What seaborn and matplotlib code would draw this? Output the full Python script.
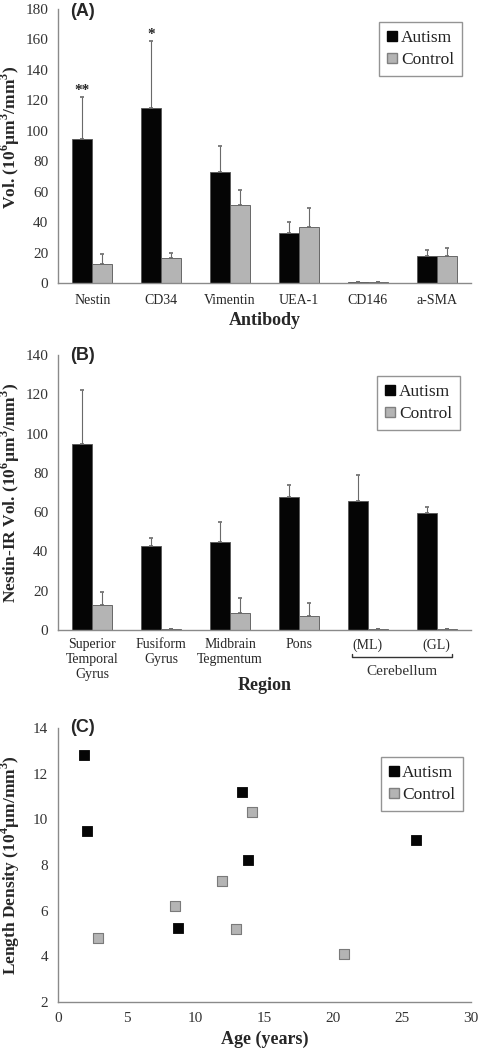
import numpy as np
import pandas as pd
import seaborn as sns
import matplotlib.pyplot as plt
from matplotlib.lines import Line2D
from matplotlib.ticker import MultipleLocator, FixedLocator
import matplotlib.transforms as mtransforms

# ---------------- data ----------------
groups = ['Autism', 'Control']

antibodies = ['Nestin', 'CD34', 'Vimentin', 'UEA-1', 'CD146', 'a-SMA']
a_autism = [94.5, 115, 73, 33, 0.5, 17.5]
a_autism_err = [27.5, 44, 17, 7, 0, 4]
a_control = [12.5, 16.5, 51.5, 37, 0.8, 18]
a_control_err = [6.5, 3, 9.5, 12.5, 0, 5]
a_stars = ['**', '*', '', '', '', '']

regions = ['Superior\nTemporal\nGyrus', 'Fusiform\nGyrus', 'Midbrain\nTegmentum',
           'Pons', '(ML)', '(GL)']
b_autism = [94.5, 43, 45, 67.5, 65.5, 59.5]
b_autism_err = [27.5, 4, 10, 6.5, 13.5, 3]
b_control = [12.5, 0.3, 8.5, 7, 0.3, 0.5]
b_control_err = [7, 0, 8, 6.5, 0, 0]

c_autism_age = [1.9, 2.1, 8.7, 13.4, 13.8, 26.0]
c_autism_ld = [12.8, 9.5, 5.25, 11.2, 8.2, 9.1]
c_control_age = [2.9, 8.5, 11.9, 12.9, 14.1, 20.8]
c_control_ld = [4.8, 6.2, 7.3, 5.2, 10.3, 4.1]

# ---------------- style ----------------
sns.set_style('white')
SERIF = ['Liberation Serif', 'DejaVu Serif']
plt.rcParams['font.family'] = SERIF
plt.rcParams['mathtext.fontset'] = 'custom'
plt.rcParams['mathtext.rm'] = 'Liberation Serif'
plt.rcParams['mathtext.bf'] = 'Liberation Serif:bold'

BLACK = '#050505'
GRAY = '#b4b4b4'
AXC = '#8a8a8a'
palette = {'Autism': BLACK, 'Control': GRAY}


def legend_box(ax, anchor):
    handles = [Line2D([], [], ls='none', marker='s', ms=7, mfc=BLACK, mec=BLACK),
               Line2D([], [], ls='none', marker='s', ms=7, mfc=GRAY, mec='#808080')]
    leg = ax.legend(handles, groups, loc='upper right', bbox_to_anchor=anchor,
                    prop={'family': 'Liberation Serif', 'size': 12.5},
                    frameon=True, fancybox=False, handlelength=0.6,
                    handletextpad=0.2, borderpad=0.45, labelspacing=0.35,
                    borderaxespad=0)
    leg.get_frame().set_edgecolor('#7a7a7a')
    leg.get_frame().set_linewidth(1.0)
    for t in leg.get_texts():
        t.set_color('#222222')


def style_axes(ax):
    sns.despine(ax=ax)
    for s in ['left', 'bottom']:
        ax.spines[s].set_color(AXC)
        ax.spines[s].set_linewidth(1.0)
    ax.tick_params(colors='#333333', labelsize=11)
    ax.tick_params(axis='both', which='both', color=AXC)


def bar_panel(ax, cats, aut, aut_err, con, con_err, ymax, ystep, ylabel, xlabel):
    df = pd.DataFrame({
        'cat': cats + cats,
        'val': aut + con,
        'group': ['Autism'] * len(cats) + ['Control'] * len(cats),
    })
    sns.barplot(data=df, x='cat', y='val', hue='group', order=cats, hue_order=groups,
                palette=palette, width=0.58, errorbar=None, legend=False,
                edgecolor='#555555', linewidth=0.6, ax=ax)
    for cont, err in zip(ax.containers, [aut_err, con_err]):
        xs = [b.get_x() + b.get_width() / 2 for b in cont]
        ys = [b.get_height() for b in cont]
        ax.errorbar(xs, ys, yerr=[np.zeros(len(err)), err], fmt='none',
                    ecolor='#6a6a6a', elinewidth=0.8, capsize=1.5, capthick=1.2)
    style_axes(ax)
    ax.set_xlim(-0.5, len(cats) - 0.5)
    ax.set_ylim(0, ymax)
    ax.set_yticks(np.arange(0, ymax + 1, ystep))
    ax.xaxis.set_major_locator(FixedLocator(np.arange(-0.5, len(cats), 1.0)))
    ax.xaxis.set_minor_locator(FixedLocator(np.arange(len(cats))))
    ax.set_xticklabels([], minor=False)
    ax.set_xticklabels(cats, minor=True, linespacing=1.2, family=SERIF)
    ax.tick_params(axis='x', which='major', direction='inout', length=7, width=0.9)
    ax.tick_params(axis='x', which='minor', length=0, pad=8)
    ax.tick_params(axis='y', which='major', direction='out', length=4, width=0.9, pad=3)
    ax.set_xlabel(xlabel, fontsize=13, fontweight='bold')
    ax.set_ylabel(ylabel, fontsize=12.5, fontweight='bold')


fig = plt.figure(figsize=(4.79, 10.5), dpi=100)

# ---------------- (A) ----------------
axA = fig.add_axes([58 / 479, 1 - 283 / 1050, 413 / 479, 274 / 1050])
bar_panel(axA, antibodies, a_autism, a_autism_err, a_control, a_control_err,
          180, 20, r'Vol. (10$^{\mathbf{6}}$µm$^{\mathbf{3}}$/mm$^{\mathbf{3}}$)', 'Antibody')
for b, err, st in zip(axA.containers[0], a_autism_err, a_stars):
    if st:
        axA.text(b.get_x() + b.get_width() / 2, b.get_height() + err, st,
                 ha='center', va='bottom', fontsize=11, fontweight='bold')
axA.xaxis.set_label_coords(0.5, -0.105)
axA.yaxis.set_label_coords(-0.088, 0.53)
legend_box(axA, (0.978, 0.953))

# ---------------- (B) ----------------
axB = fig.add_axes([58 / 479, 1 - 630 / 1050, 413 / 479, 275 / 1050])
bar_panel(axB, regions, b_autism, b_autism_err, b_control, b_control_err,
          140, 20, r'Nestin-IR Vol. (10$^{\mathbf{6}}$µm$^{\mathbf{3}}$/mm$^{\mathbf{3}}$)', 'Region')
axB.tick_params(axis='x', which='minor', pad=6)
axB.xaxis.set_label_coords(0.5, -0.17)
axB.yaxis.set_label_coords(-0.088, 0.5)
legend_box(axB, (0.973, 0.924))
trB = mtransforms.blended_transform_factory(axB.transData, axB.transAxes)
axB.plot([3.77, 3.77, 5.23, 5.23], [-0.087, -0.098, -0.098, -0.087], color='#333333',
         lw=1.0, transform=trB, clip_on=False)
axB.text(4.5, -0.15, 'Cerebellum', transform=trB, ha='center', va='center', fontsize=11,
         family=SERIF, color='#333333')

# ---------------- (C) ----------------
axC = fig.add_axes([58 / 479, 1 - 1002 / 1050, 413 / 479, 274 / 1050])
dfc = pd.DataFrame({
    'age': c_autism_age + c_control_age,
    'ld': c_autism_ld + c_control_ld,
    'group': ['Autism'] * len(c_autism_age) + ['Control'] * len(c_control_age),
})
sns.scatterplot(data=dfc[dfc.group == 'Autism'], x='age', y='ld', marker='s', s=42,
                color=BLACK, edgecolor=BLACK, linewidth=0.6, ax=axC, legend=False)
sns.scatterplot(data=dfc[dfc.group == 'Control'], x='age', y='ld', marker='s', s=42,
                color=GRAY, edgecolor='#7a7a7a', linewidth=0.8, ax=axC, legend=False)
style_axes(axC)
axC.set_xlim(0, 30)
axC.set_ylim(2, 14)
axC.xaxis.set_major_locator(MultipleLocator(5))
axC.xaxis.set_minor_locator(MultipleLocator(1))
axC.yaxis.set_major_locator(MultipleLocator(2))
axC.yaxis.set_minor_locator(MultipleLocator(0.4))
axC.tick_params(axis='both', which='major', direction='inout', length=8, width=0.9)
axC.tick_params(axis='both', which='minor', direction='inout', length=5, width=0.8)
axC.tick_params(axis='x', which='major', pad=3)
axC.tick_params(axis='y', which='major', pad=3)
axC.set_xlabel('Age (years)', fontsize=13, fontweight='bold')
axC.set_ylabel(r'Length Density (10$^{\mathbf{4}}$µm/mm$^{\mathbf{3}}$)', fontsize=12.5,
               fontweight='bold')
axC.xaxis.set_label_coords(0.5, -0.105)
axC.yaxis.set_label_coords(-0.088, 0.5)
legend_box(axC, (0.981, 0.894))

# panel letters
for lab, ypix in [('(A)', 12), ('(B)', 356), ('(C)', 728)]:
    fig.text(70 / 479, 1 - ypix / 1050, lab, fontsize=13, fontweight='bold',
             family=['Liberation Sans', 'DejaVu Sans'], ha='left', va='center')

fig.savefig('out.png', dpi=100)
